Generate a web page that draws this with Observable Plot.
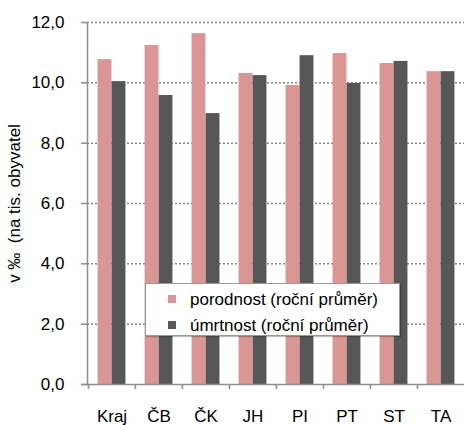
<!DOCTYPE html>
<html><head><meta charset="utf-8">
<script src="https://cdn.jsdelivr.net/npm/d3@7"></script>
<script src="https://cdn.jsdelivr.net/npm/@observablehq/plot@0.6"></script>
<style>
body{margin:0;background:#fff}
#wrap{position:relative;width:465px;height:425px;font-family:"Liberation Sans",Arial,sans-serif;color:#000}
#legend{position:absolute;left:145px;top:283px;width:253px;height:51px;background:#fff;border:1px solid #999;box-shadow:1px 1px 1px rgba(0,0,0,0.25);font-size:17px}
#legend .item{position:absolute;left:0;width:100%;height:20px}
#legend .sw{position:absolute;left:22px;top:5px;width:8px;height:8px}
#legend .lab{position:absolute;left:44px;top:0;white-space:nowrap;line-height:20px}
</style></head><body><div id="wrap"></div>
<script>
const categories = ["Kraj","ČB","ČK","JH","PI","PT","ST","TA"];
const porodnost = [10.77,11.24,11.63,10.31,9.91,10.97,10.64,10.37];
const umrtnost = [10.04,9.58,8.98,10.24,10.90,9.98,10.71,10.37];
const yTicks = [0,2,4,6,8,10,12];
const seriesNames = ["porodnost (roční průměr)","úmrtnost (roční průměr)"];
const colors = ["#D99694","#575757"];
const yLabel = "v ‰  (na tis. obyvatel";

const rows = categories.map((c,i)=>({category:c, porodnost:porodnost[i], umrtnost:umrtnost[i]}));
const W=465, H=425, mL=87, mR=1, bw=(W-mL-mR)/categories.length, barW=14;
const axisGray = "#8e8e8e";
const fmt = d => d.toFixed(1).replace(".", ",");

const chart = Plot.plot({
  width: W, height: H,
  marginLeft: mL, marginRight: mR, marginTop: 22, marginBottom: 41,
  x: {domain: categories, padding: 0, label: null},
  y: {domain: [0, 12], label: null},
  style: {fontFamily: '"Liberation Sans", Arial, sans-serif', fontSize: "17px", color: "#000", background: "#fff"},
  marks: [
    Plot.ruleY(yTicks.filter(t => t > 0), {stroke: "#868686", strokeWidth: 1.5, strokeDasharray: "2,2"}),
    Plot.barY(rows, {x: "category", y: "porodnost", fill: colors[0], insetLeft: bw/2 - barW, insetRight: bw/2}),
    Plot.barY(rows, {x: "category", y: "umrtnost", fill: colors[1], insetLeft: bw/2, insetRight: bw/2 - barW}),
    Plot.ruleY([0], {stroke: axisGray, strokeWidth: 1.5, insetLeft: -6}),
    Plot.frame({anchor: "left", stroke: axisGray, strokeWidth: 1.5}),
    Plot.axisY({ticks: yTicks, tickSize: 6, tickPadding: 17, tickFormat: fmt, fontSize: 17, stroke: axisGray, strokeWidth: 1.5,
      label: yLabel, labelAnchor: "center", labelOffset: 80, labelArrow: false}),
    Plot.axisX({tickSize: 5, tickFormat: () => "", dx: -bw/2, stroke: axisGray, strokeWidth: 1.5, label: null}),
    Plot.axisX({tickSize: 0, tickPadding: 25, fontSize: 17, label: null})
  ]
});
const wrap = document.getElementById("wrap");
wrap.appendChild(chart);

const legend = document.createElement("div");
legend.id = "legend";
seriesNames.forEach((name, i) => {
  const item = document.createElement("div");
  item.className = "item";
  item.style.top = (6 + i * 26) + "px";
  const sw = document.createElement("div");
  sw.className = "sw"; sw.style.background = colors[i];
  const lab = document.createElement("div");
  lab.className = "lab"; lab.textContent = name;
  item.appendChild(sw); item.appendChild(lab);
  legend.appendChild(item);
});
wrap.appendChild(legend);
</script></body></html>
